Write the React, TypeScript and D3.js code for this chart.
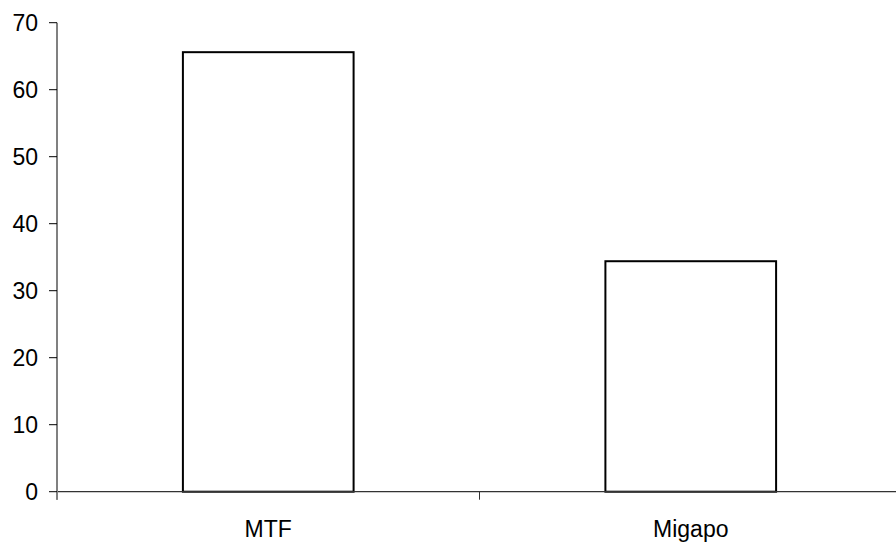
import React from "react";
import * as d3 from "d3";

const categories = ["MTF", "Migapo"];
const values = [65.6, 34.4];
const yTicks = [0, 10, 20, 30, 40, 50, 60, 70];

const W = 896;
const H = 542;
const left = 57;
const right = 902;
const top = 22.7;
const bottom = 491.7;
const font = "'Liberation Sans', Arial, sans-serif";

export default function App() {
  const x = d3.scaleBand<string>().domain(categories).range([left, right]).padding(0);
  const y = d3.scaleLinear().domain([0, 70]).range([bottom, top]);
  const bw = x.bandwidth() * 0.404;
  const catTicks = [left, ...categories.map((c) => (x(c) as number) + x.bandwidth())];

  return (
    <svg
      width={W}
      height={H}
      style={{ position: "fixed", left: 0, top: 0, background: "#fff" }}
      fontFamily={font}
    >
      <rect x={0} y={0} width={W} height={H} fill="#fff" />
      {/* bars */}
      {categories.map((c, i) => {
        const cx = (x(c) as number) + x.bandwidth() / 2;
        return (
          <rect
            key={c}
            x={cx - bw / 2}
            y={y(values[i])}
            width={bw}
            height={y(0) - y(values[i])}
            fill="#fff"
            stroke="#000"
            strokeWidth={2}
          />
        );
      })}
      {/* x axis */}
      <line x1={left} x2={W} y1={y(0)} y2={y(0)} stroke="#333" strokeWidth={1.3} />
      {catTicks.map((t, i) => (
        <line key={i} x1={t} x2={t} y1={y(0)} y2={y(0) + 8} stroke="#333" strokeWidth={1} />
      ))}
      {categories.map((c) => (
        <text
          key={c}
          x={(x(c) as number) + x.bandwidth() / 2}
          y={536.5}
          textAnchor="middle"
          fontSize={23}
          fill="#000"
        >
          {c}
        </text>
      ))}
      {/* y axis */}
      <line x1={left} x2={left} y1={top} y2={y(0) + 8} stroke="#808080" strokeWidth={2} />
      {yTicks.map((t) => (
        <g key={t}>
          <line x1={left - 8} x2={left} y1={y(t)} y2={y(t)} stroke="#000" strokeWidth={1} />
          <text x={38} y={y(t)} dy="0.35em" textAnchor="end" fontSize={23} fill="#000">
            {t}
          </text>
        </g>
      ))}
    </svg>
  );
}
